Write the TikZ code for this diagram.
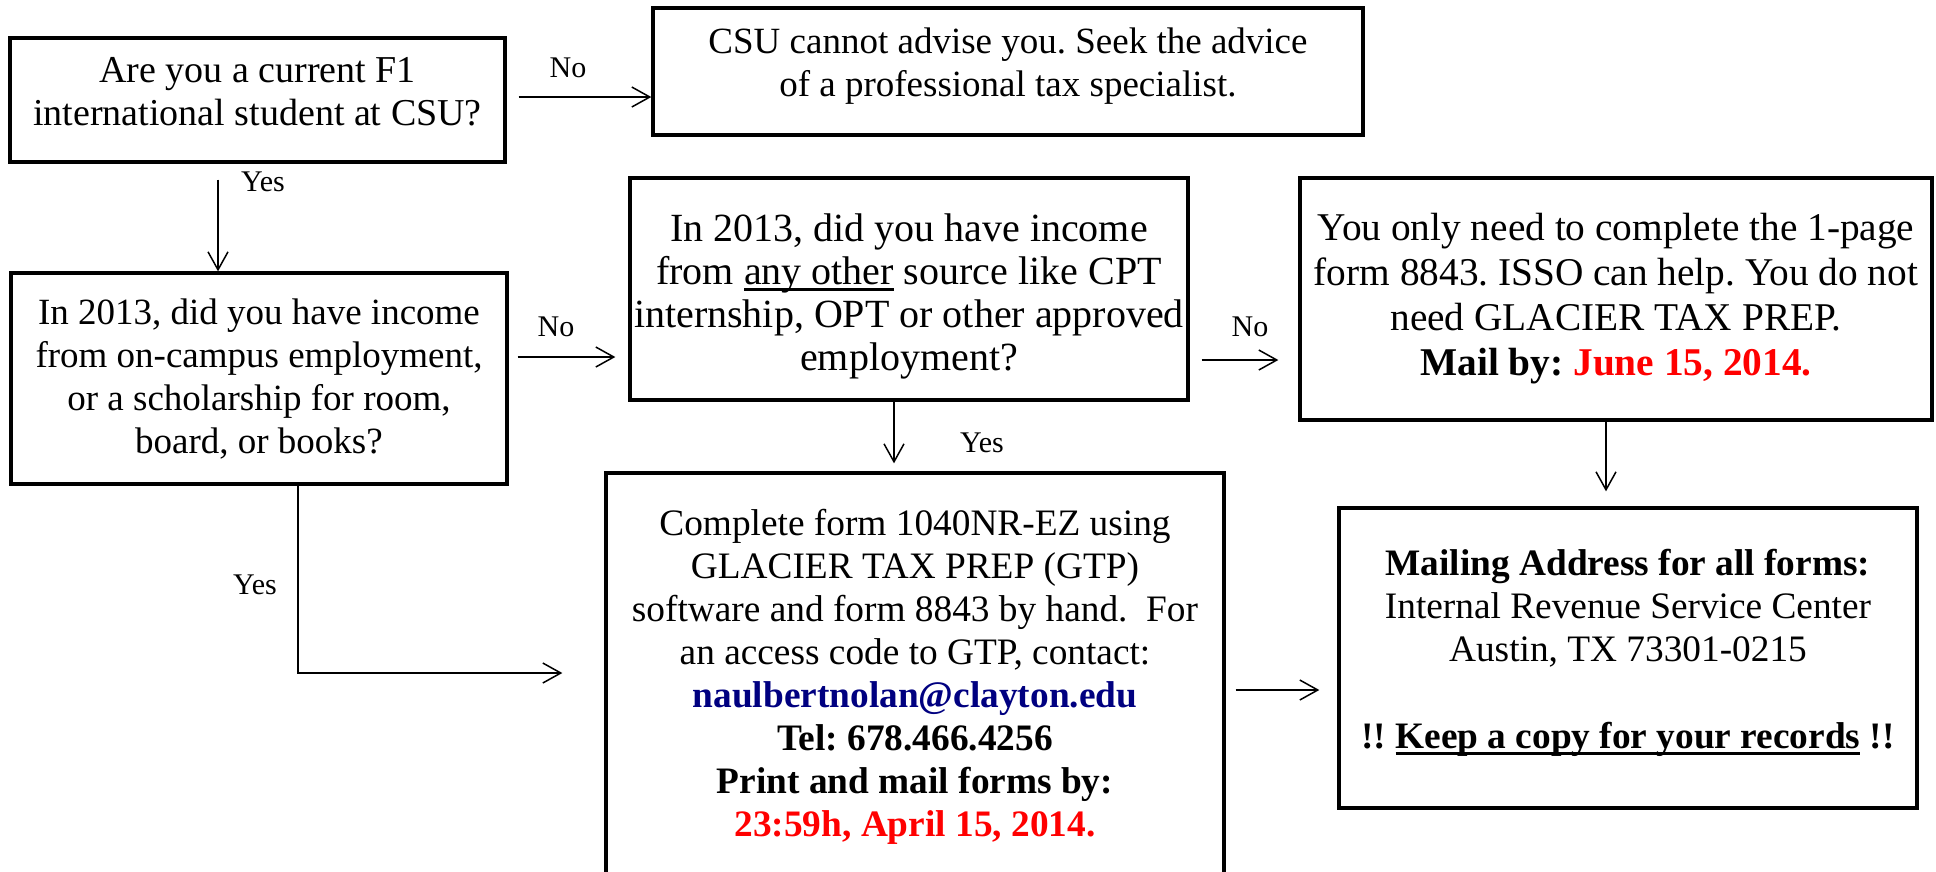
\documentclass[tikz,border=0pt]{standalone}
\usepackage{fontspec}
\setmainfont{Liberation Serif}
\usetikzlibrary{arrows.meta}
\definecolor{mailblue}{RGB}{0,0,128}
\definecolor{duered}{RGB}{255,0,0}
\frenchspacing
\newsavebox\ulbox
\newcommand\ulined[1]{\sbox\ulbox{#1}\rlap{\rule[-0.15em]{\wd\ulbox}{0.07em}}\usebox\ulbox}

\begin{document}
\begin{tikzpicture}[x=0.3pt, y=-0.3pt,
    >={Straight Barb[length=5.4pt,width=6pt]},
    box/.style={draw, line width=1pt, align=center, inner sep=0pt,
      font=\fontsize{#1}{12.9}\selectfont},
    box/.default=11.4,
    lbl/.style={font=\fontsize{9}{10}\selectfont, inner sep=0pt},
    arr/.style={->, line width=0.45pt}]
  \useasboundingbox (0,0) rectangle (1936,871);

  % Boxes (centres in pixels, y grows downward)
  \node[box=11.4, minimum width=148.5pt, minimum height=37.2pt] (student) at (257.5,100)
    {Are you a current F1\\ international student at CSU?\rule[-5.4pt]{0pt}{5.4pt}};
  \node[box=11.1, minimum width=213pt, minimum height=38.1pt] (advise) at (1008,71.5)
    {CSU cannot advise you. Seek the advice\\ of a professional tax specialist.\rule[-5.4pt]{0pt}{5.4pt}};
  \node[box=11.1, minimum width=148.8pt, minimum height=63.3pt] (campus) at (259,378.5)
    {In 2013, did you have income\\ from on-campus employment,\\ or a scholarship for room,\\ board, or books?};
  \node[box=12, minimum width=167.4pt, minimum height=66.6pt] (other) at (909,289)
    {\rule{0pt}{13pt}In 2013, did you have income\\ from \ulined{any other} source like CPT\\ internship, OPT or other approved\\ employment?};
  \node[box=11.8, font=\fontsize{11.8}{13.5}\selectfont, minimum width=189.6pt, minimum height=72.6pt] (only) at (1616,299)
    {You only need to complete the 1-page\\ form 8843. ISSO can help. You do not\\ need GLACIER TAX PREP.\\
     \textbf{Mail by: \textcolor{duered}{June 15, 2014.}}};
  \node[box=11.2, minimum width=185.4pt, minimum height=122.4pt] (gtp) at (915,677)
    {Complete form 1040NR-EZ using\\ GLACIER TAX PREP (GTP)\\ software and form 8843 by hand.\ \ For\\ an access code to GTP, contact:\\
     \textbf{\textcolor{mailblue}{naulbertnolan@clayton.edu}}\\ \textbf{Tel: 678.466.4256}\\ \textbf{Print and mail forms by:}\\
     \textbf{\textcolor{duered}{23:59h, April 15, 2014.}}};
  \node[box=11.2, minimum width=173.4pt, minimum height=90pt] (address) at (1628,658)
    {\textbf{Mailing Address for all forms:}\\ Internal Revenue Service Center\\ Austin, TX 73301-0215\\[13.4pt]
     \textbf{!! \ulined{Keep a copy for your records} !!}\rule[-5.4pt]{0pt}{5.4pt}};

  % Rows and columns the arrows run along
  \coordinate (colA) at (218,0);
  \coordinate (colC) at (298,0);
  \coordinate (colD) at (894,0);
  \coordinate (colE) at (1606,0);
  \coordinate (rowA) at (0,97);
  \coordinate (rowC) at (0,357);
  \coordinate (rowD) at (0,360);
  \coordinate (rowF) at (0,673);
  \coordinate (rowG) at (0,690);

  % Arrows
  \draw[arr, shorten <=3.6pt] (student.east |- rowA) -- (advise.west |- rowA);
  \draw[arr, shorten <=4.8pt] (student.south -| colA) -- (campus.north -| colA);
  \draw[arr, shorten <=2.7pt, shorten >=3.9pt] (campus.east |- rowC) -- (other.west |- rowC);
  \draw[arr, shorten <=3.6pt, shorten >=6pt] (other.east |- rowD) -- (only.west |- rowD);
  \draw[arr, shorten >=2.4pt] (other.south -| colD) -- (gtp.north -| colD);
  \draw[arr, shorten >=12.6pt] (campus.south -| colC) |- (gtp.west |- rowF);
  \draw[arr, shorten >=4.5pt] (only.south -| colE) -- (address.north -| colE);
  \draw[arr, shorten <=3pt, shorten >=5.4pt] (gtp.east |- rowG) -- (address.west |- rowG);

  % Yes / No labels
  \node[lbl] (no1) at (568,68) {No};
  \node[lbl] (yes1) at (263,182) {Yes};
  \node[lbl] (no2) at (556,327) {No};
  \node[lbl] (yes2) at (255,585) {Yes};
  \node[lbl] (no3) at (1250,327) {No};
  \node[lbl] (yes3) at (982,443) {Yes};
\end{tikzpicture}
\end{document}
